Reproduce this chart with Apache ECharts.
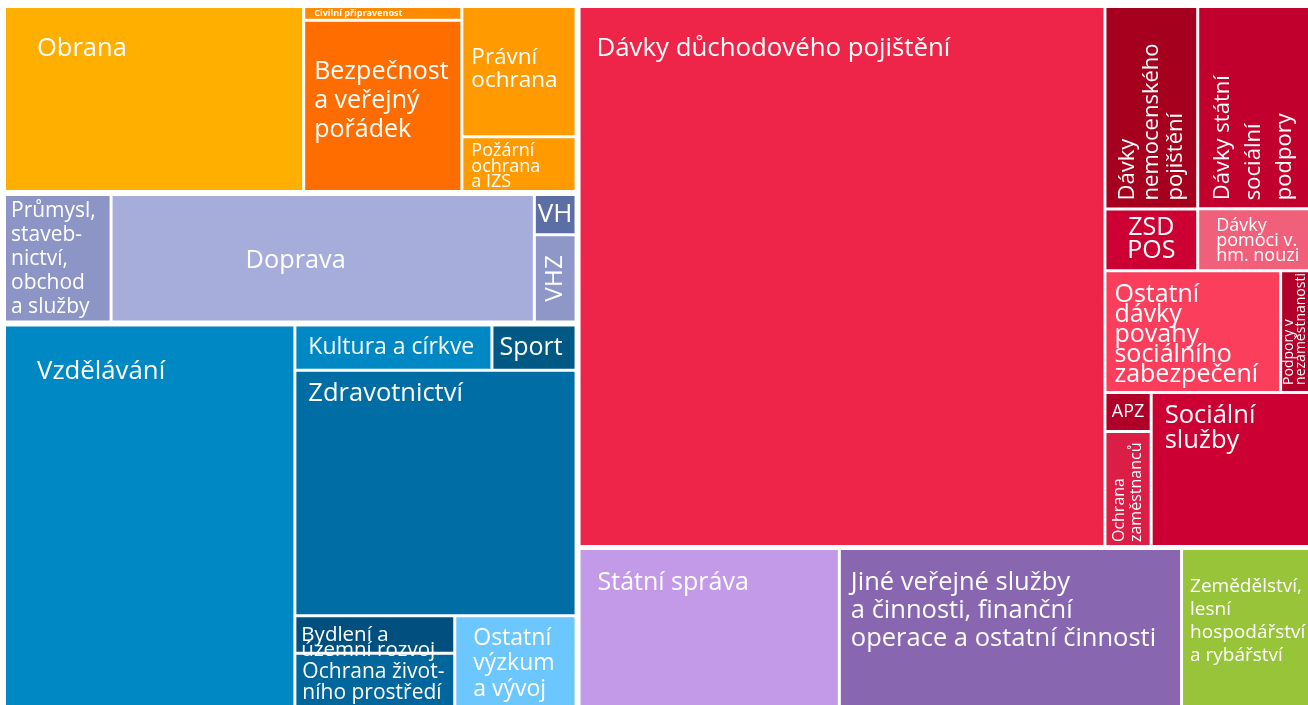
<!DOCTYPE html>
<html lang="cs">
<head>
<meta charset="utf-8">
<title>Výdaje podle funkcí</title>
<script src="https://cdn.jsdelivr.net/npm/echarts@6.0.0/dist/echarts.min.js"></script>
<style>
html,body{margin:0;padding:0;background:#ffffff;}
#chart{width:1308px;height:705px;}
</style>
</head>
<body>
<div id="chart"></div>
<script>
// ---------------- data (values estimated from the rectangle areas) ----------------
const securityNames = ['Obrana', 'Civilní připravenost', 'Bezpečnost a veřejný pořádek', 'Právní ochrana', 'Požární ochrana a IZS'];
const securityValues = [55.8, 2.2, 27.3, 15.0, 6.3];

const economyNames = ['Průmysl, stavebnictví, obchod a služby', 'Doprava', 'VH', 'VHZ'];
const economyValues = [13.8, 54.8, 1.7, 3.7];

const humanNames = ['Vzdělávání', 'Kultura a církve', 'Sport', 'Zdravotnictví', 'Bydlení a územní rozvoj', 'Ochrana životního prostředí', 'Ostatní výzkum a vývoj'];
const humanValues = [110.7, 8.9, 3.8, 69.0, 6.0, 8.5, 11.0];

const pensionNames = ['Dávky důchodového pojištění'];
const pensionValues = [282.8];

const benefitNames = ['Dávky nemocenského pojištění', 'ZSD POS', 'Dávky státní sociální podpory', 'Dávky pomoci v hmotné nouzi'];
const benefitValues = [18.7, 5.7, 22.5, 6.9];

const otherBenefitNames = ['Ostatní dávky povahy sociálního zabezpečení', 'Podpory v nezaměstnanosti'];
const otherBenefitValues = [21.3, 3.5];

const serviceNames = ['APZ', 'Ochrana zaměstnanců', 'Sociální služby'];
const serviceValues = [1.8, 5.3, 24.3];

const generalNames = ['Státní správa', 'Jiné veřejné služby a činnosti, finanční operace a ostatní činnosti', 'Zemědělství, lesní hospodářství a rybářství'];
const generalValues = [41.3, 54.3, 20.3];

// ---------------- colours ----------------
const securityColors = ['#FFAF00', '#FF8A00', '#FF6D00', '#FF9A00', '#FF9A00'];
const economyColors = ['#8C95C5', '#A6ADDB', '#5C6EA6', '#8E97C8'];
const humanColors = ['#0088C4', '#0088C4', '#005985', '#006DA4', '#004F7F', '#00669C', '#6CC7FF'];
const pensionColors = ['#EE2448'];
const benefitColors = ['#A6001F', '#CC0032', '#C2002E', '#F1607A'];
const otherBenefitColors = ['#FB3E5C', '#B3002A'];
const serviceColors = ['#B10028', '#DA1E46', '#CC0033'];
const generalColors = ['#C29AE8', '#8966B0', '#98C43A'];

// ---------------- label texts (line breaks as in the picture) ----------------
const labelText = {
  'Bezpečnost a veřejný pořádek': 'Bezpečnost\na veřejný\npořádek',
  'Právní ochrana': 'Právní\nochrana',
  'Požární ochrana a IZS': 'Požární\nochrana\na IZS',
  'Průmysl, stavebnictví, obchod a služby': 'Průmysl,\nstaveb-\nnictví,\nobchod\na služby',
  'Bydlení a územní rozvoj': 'Bydlení a\núzemní rozvoj',
  'Ochrana životního prostředí': 'Ochrana život-\nního prostředí',
  'Ostatní výzkum a vývoj': 'Ostatní\nvýzkum\na vývoj',
  'Dávky nemocenského pojištění': 'Dávky\nnemocenského\npojištění',
  'Dávky státní sociální podpory': 'Dávky státní\nsociální\npodpory',
  'ZSD POS': 'ZSD\nPOS',
  'Dávky pomoci v hmotné nouzi': 'Dávky\npomoci v.\nhm. nouzi',
  'Ostatní dávky povahy sociálního zabezpečení': 'Ostatní\ndávky\npovahy\nsociálního\nzabezpečení',
  'Podpory v nezaměstnanosti': 'Podpory v\nnezaměstnanosti',
  'Ochrana zaměstnanců': 'Ochrana\nzaměstnanců',
  'Sociální služby': 'Sociální\nslužby',
  'Jiné veřejné služby a činnosti, finanční operace a ostatní činnosti': 'Jiné veřejné služby\na činnosti, finanční\noperace a ostatní činnosti',
  'Zemědělství, lesní hospodářství a rybářství': 'Zemědělství,\nlesní\nhospodářství\na rybářství'
};

// ---------------- label styles ----------------
const FONT = "'Open Sans', 'Noto Sans', sans-serif";
const labelStyle = {
  'Obrana': {at: [31, 26], size: 25.5, lh: 30},
  'Civilní připravenost': {at: [9, 0], size: 9, lh: 10, weight: 'bold'},
  'Bezpečnost a veřejný pořádek': {at: [9, 36], size: 25, lh: 29},
  'Právní ochrana': {at: [8, 38], size: 22.5, lh: 23},
  'Požární ochrana a IZS': {at: [8, 5], size: 18, lh: 15.5},
  'Průmysl, stavebnictví, obchod a služby': {at: [5, 3], size: 21, lh: 24},
  'Doprava': {at: [133, 50], size: 25.3, lh: 30},
  'VH': {center: true, size: 26, lh: 30},
  'VHZ': {center: true, rotate: true, size: 24.5, lh: 30},
  'Vzdělávání': {at: [31, 30], size: 25.8, lh: 30},
  'Kultura a církve': {at: [12, 7], size: 23, lh: 28},
  'Sport': {at: [6, 7], size: 25, lh: 28},
  'Zdravotnictví': {at: [12, 7], size: 25.5, lh: 30},
  'Bydlení a územní rozvoj': {at: [5, 10], size: 20.5, lh: 15},
  'Ochrana životního prostředí': {at: [6, 7], size: 21, lh: 21},
  'Ostatní výzkum a vývoj': {at: [17, 8], size: 23, lh: 25.5},
  'Dávky důchodového pojištění': {at: [16, 26], size: 25.8, lh: 30},
  'Dávky nemocenského pojištění': {bottomUp: 7, size: 22, lh: 24},
  'Dávky státní sociální podpory': {bottomUp: 7, size: 22, lh: 31},
  'ZSD POS': {center: true, size: 25, lh: 23},
  'Dávky pomoci v hmotné nouzi': {at: [17, 8], size: 18, lh: 15},
  'Ostatní dávky povahy sociálního zabezpečení': {at: [8, 13], size: 25, lh: 20},
  'Podpory v nezaměstnanosti': {bottomUp: 6, size: 14, lh: 12},
  'APZ': {center: true, size: 18, lh: 20},
  'Ochrana zaměstnanců': {bottomUp: 3, size: 16, lh: 17},
  'Sociální služby': {at: [12, 9], size: 25.5, lh: 25},
  'Státní správa': {at: [17, 18], size: 25, lh: 30},
  'Jiné veřejné služby a činnosti, finanční operace a ostatní činnosti': {at: [10, 19], size: 25.5, lh: 28},
  'Zemědělství, lesní hospodářství a rybářství': {at: [7, 25], size: 19, lh: 23}
};

function labelFor(name) {
  const sp = labelStyle[name] || {size: 20, lh: 24, at: [8, 6]};
  const o = {
    show: true,
    color: '#ffffff',
    fontFamily: sp.font || FONT,
    fontWeight: sp.weight || 'normal',
    fontSize: sp.size,
    lineHeight: sp.lh,
    padding: 0,
    overflow: 'none',
    formatter: labelText[name] || name
  };
  if (sp.bottomUp != null) {
    o.rotate = 90; o.position = 'insideBottom'; o.distance = sp.bottomUp;
    o.align = 'left'; o.verticalAlign = 'middle';
  } else if (sp.center) {
    o.position = 'inside'; o.align = 'center'; o.verticalAlign = 'middle';
    if (sp.rotate) o.rotate = 90;
  } else {
    o.position = sp.at; o.align = 'left'; o.verticalAlign = 'top';
  }
  return o;
}

function leaves(names, values, colors) {
  return names.map((n, i) => ({
    name: n,
    value: values[i],
    itemStyle: {color: colors[i]},
    label: labelFor(n)
  }));
}
function group(name, children) { return {name: name, children: children}; }

const sum = a => a.reduce((s, v) => s + v, 0);

// ---------------- chart ----------------
const chart = echarts.init(document.getElementById('chart'), null, {renderer: 'canvas'});

const secTotal = sum(securityValues);
const lowerTotal = sum(economyValues) + sum(humanValues);
const leftTotal = secTotal + lowerTotal;
const rightTotal = sum(pensionValues) + sum(benefitValues) + sum(otherBenefitValues) + sum(serviceValues) + sum(generalValues);

const X0 = 6, Y0 = 8;
const W = chart.getWidth() - X0;
const H = chart.getHeight() - Y0;
const GAP = 6;
const leftW = (W + GAP) * leftTotal / (leftTotal + rightTotal) - GAP;
const secH = (H + GAP) * secTotal / leftTotal - GAP;

const SQUARE_RATIO = 2.04;

function treemap(box, rootGap, data) {
  return Object.assign({
    type: 'treemap',
    roam: false,
    nodeClick: false,
    sort: false,
    squareRatio: SQUARE_RATIO,
    visibleMin: 0,
    breadcrumb: {show: false},
    silent: true,
    animation: false,
    upperLabel: {show: false},
    label: {show: true, color: '#fff', fontFamily: FONT, padding: 0, overflow: 'none'},
    itemStyle: {borderWidth: 0, gapWidth: 3, borderColor: '#ffffff'},
    levels: [{itemStyle: {borderWidth: 0, gapWidth: rootGap, borderColor: '#ffffff'}}],
    data: data
  }, box);
}

const benefitLeaves = leaves(benefitNames, benefitValues, benefitColors);

chart.setOption({
  backgroundColor: '#ffffff',
  animation: false,
  series: [
    treemap({left: X0, top: Y0, width: leftW, height: secH}, 3,
      leaves(securityNames, securityValues, securityColors)),
    treemap({left: X0, top: Y0 + secH + GAP, width: leftW, height: H - secH - GAP}, 6, [
      group('Hospodářství', leaves(economyNames, economyValues, economyColors)),
      group('Vzdělávání, kultura a zdravotnictví', leaves(humanNames, humanValues, humanColors))
    ]),
    treemap({left: X0 + leftW + GAP, top: Y0, width: W - leftW - GAP, height: H}, 5, [
      group('Sociální věci', [
        leaves(pensionNames, pensionValues, pensionColors)[0],
        group('Ostatní sociální výdaje', [
          group('Dávky', [
            group('Dávky a podpory', [
              group('Nemocenské a ZSD', [benefitLeaves[0], benefitLeaves[1]]),
              group('Státní podpora a hmotná nouze', [benefitLeaves[2], benefitLeaves[3]])
            ]),
            group('Ostatní dávky', leaves(otherBenefitNames, otherBenefitValues, otherBenefitColors))
          ]),
          group('Služby a zaměstnanost', leaves(serviceNames, serviceValues, serviceColors))
        ])
      ]),
      group('Veřejná správa a ostatní', leaves(generalNames, generalValues, generalColors))
    ])
  ]
});
</script>
</body>
</html>
